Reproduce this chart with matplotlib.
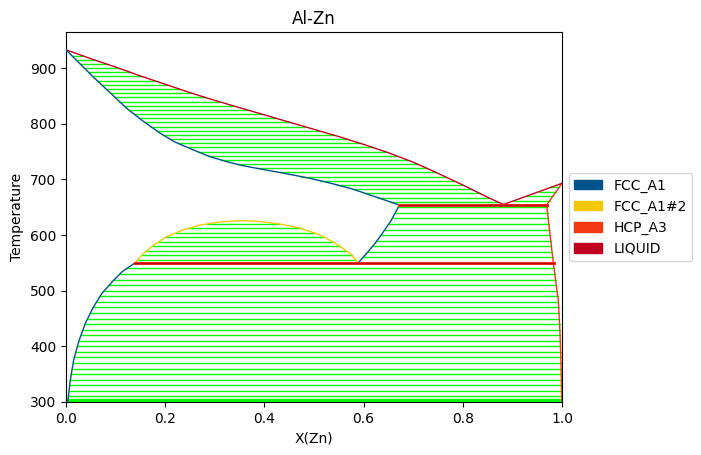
import numpy as np
import matplotlib.pyplot as plt
from matplotlib.patches import Patch

# Phase colours (Kelly palette, as in the original plot).
phase_names = ["FCC_A1", "FCC_A1#2", "HCP_A3", "LIQUID"]
phase_colors = ["#00538A", "#F4C800", "#F13A13", "#C10020"]
tie_color = (0, 1, 0, 1)

# Phase boundaries: (X(Zn), T).
liquidus_al_x = [0.0, 0.05, 0.1, 0.15, 0.2, 0.25, 0.3, 0.35, 0.4, 0.45,
                 0.5, 0.55, 0.6, 0.65, 0.7, 0.75, 0.8, 0.85, 0.882]
liquidus_al_t = [933, 917, 902, 886, 871, 856, 842, 829, 816, 803,
                 790, 777, 763, 748, 731, 711, 690, 668, 655]

solidus_al_x = [0.0, 0.055, 0.09, 0.122, 0.155, 0.19, 0.22, 0.257, 0.29, 0.324,
                0.355, 0.391, 0.44, 0.492, 0.53, 0.573, 0.6, 0.633, 0.672]
solidus_al_t = [933, 884, 855, 828, 805, 783, 767, 753, 741, 732,
                725, 719, 711, 702, 694, 684, 676, 666, 654]

fcc_solvus_hi_x = [0.672, 0.667, 0.654, 0.64, 0.623, 0.606, 0.589]
fcc_solvus_hi_t = [654, 645, 624, 606, 585, 567, 550]

dome_x = [0.139, 0.155, 0.175, 0.203, 0.235, 0.27, 0.31, 0.351, 0.39, 0.43,
          0.47, 0.51, 0.54, 0.56, 0.575, 0.589]
dome_t = [550, 566, 581, 597, 609, 618, 623.5, 626, 624.5, 620,
          613, 601, 587, 575, 565, 550]

fcc_solvus_lo_x = [0.139, 0.113, 0.093, 0.0726, 0.0558, 0.039, 0.0255,
                   0.0155, 0.0087, 0.004, 0.003]
fcc_solvus_lo_t = [550, 534, 516, 495.5, 471.5, 441.7, 408.6,
                   375.8, 340, 304, 300]

hcp_solvus_x = [0.969, 0.9825, 0.987, 0.9925, 0.9945, 0.996, 0.998, 0.9994, 1.0]
hcp_solvus_t = [654, 550, 520, 483, 450, 424, 370, 304, 300]

hcp_solidus_x = [0.969, 1.0]
hcp_solidus_t = [654, 693]

liquidus_zn_x = [0.882, 1.0]
liquidus_zn_t = [655, 693]

# Invariant lines: (T, x_left, x_right)
eutectic = (654.5, 0.672, 0.969)
monotectoid = (550, 0.139, 0.984)

# Tie-line temperatures for each two-phase field.
tie_t_liq_fcc = np.arange(660, 930, 7.5)
tie_t_liq_hcp = [662, 670, 678, 686]
tie_t_fcc_hcp_hi = np.arange(560, 654, 10)
tie_t_dome = [556, 564, 572, 580, 588, 596, 604, 612, 620]
tie_t_fcc_hcp_lo = [301, 303, 306] + list(range(310, 550, 10))


def x_at(t, xs, ts):
    order = np.argsort(ts)
    return np.interp(t, np.array(ts)[order], np.array(xs)[order])


fig = plt.figure(figsize=(7.01, 4.55), dpi=100)
ax = fig.add_axes([0.0942, 0.1165, 0.7075, 0.8132])

# tie lines
def tielines(temps, left, right):
    for t in temps:
        ax.plot([x_at(t, *left), x_at(t, *right)], [t, t], color=tie_color, lw=1, zorder=1)

tielines(tie_t_liq_fcc, (solidus_al_x, solidus_al_t), (liquidus_al_x, liquidus_al_t))
tielines(tie_t_liq_hcp, (liquidus_zn_x, liquidus_zn_t), (hcp_solidus_x, hcp_solidus_t))
tielines(tie_t_fcc_hcp_hi, (fcc_solvus_hi_x, fcc_solvus_hi_t), (hcp_solvus_x, hcp_solvus_t))
tielines(tie_t_fcc_hcp_lo, (fcc_solvus_lo_x, fcc_solvus_lo_t), (hcp_solvus_x, hcp_solvus_t))
peak = int(np.argmax(dome_t))
for t in tie_t_dome:
    xl = x_at(t, dome_x[:peak + 1], dome_t[:peak + 1])
    xr = x_at(t, dome_x[peak:], dome_t[peak:])
    ax.plot([xl, xr], [t, t], color=tie_color, lw=1, zorder=1)

# phase boundaries
fcc, fcc2, hcp, liq = phase_colors
ax.plot(liquidus_al_x, liquidus_al_t, color=liq, lw=1, zorder=3)
ax.plot(solidus_al_x, solidus_al_t, color=fcc, lw=1, zorder=3)
ax.plot(fcc_solvus_hi_x, fcc_solvus_hi_t, color=fcc, lw=1, zorder=3)
ax.plot(fcc_solvus_lo_x, fcc_solvus_lo_t, color=fcc, lw=1, zorder=3)
ax.plot(dome_x, dome_t, color=fcc2, lw=1, zorder=3)
ax.plot(hcp_solvus_x, hcp_solvus_t, color=hcp, lw=1, zorder=3)
ax.plot(hcp_solidus_x, hcp_solidus_t, color=hcp, lw=1, zorder=3)
ax.plot(liquidus_zn_x, liquidus_zn_t, color=liq, lw=1, zorder=3)

for t, xl, xr in [eutectic, monotectoid]:
    ax.plot([xl, xr], [t, t], color=hcp, lw=2.2, zorder=4)
    ax.plot([xl, xr], [t, t], color=liq, lw=1, zorder=5)

ax.set_xlim(0, 1)
ax.set_ylim(300, 965)
ax.set_xlabel("X(Zn)")
ax.set_ylabel("Temperature")
ax.set_title("Al-Zn")

handles = [Patch(color=c, label=n) for n, c in zip(phase_names, phase_colors)]
ax.legend(handles=handles, loc="center left", bbox_to_anchor=(1, 0.5))

fig.savefig("out.png", dpi=100)
